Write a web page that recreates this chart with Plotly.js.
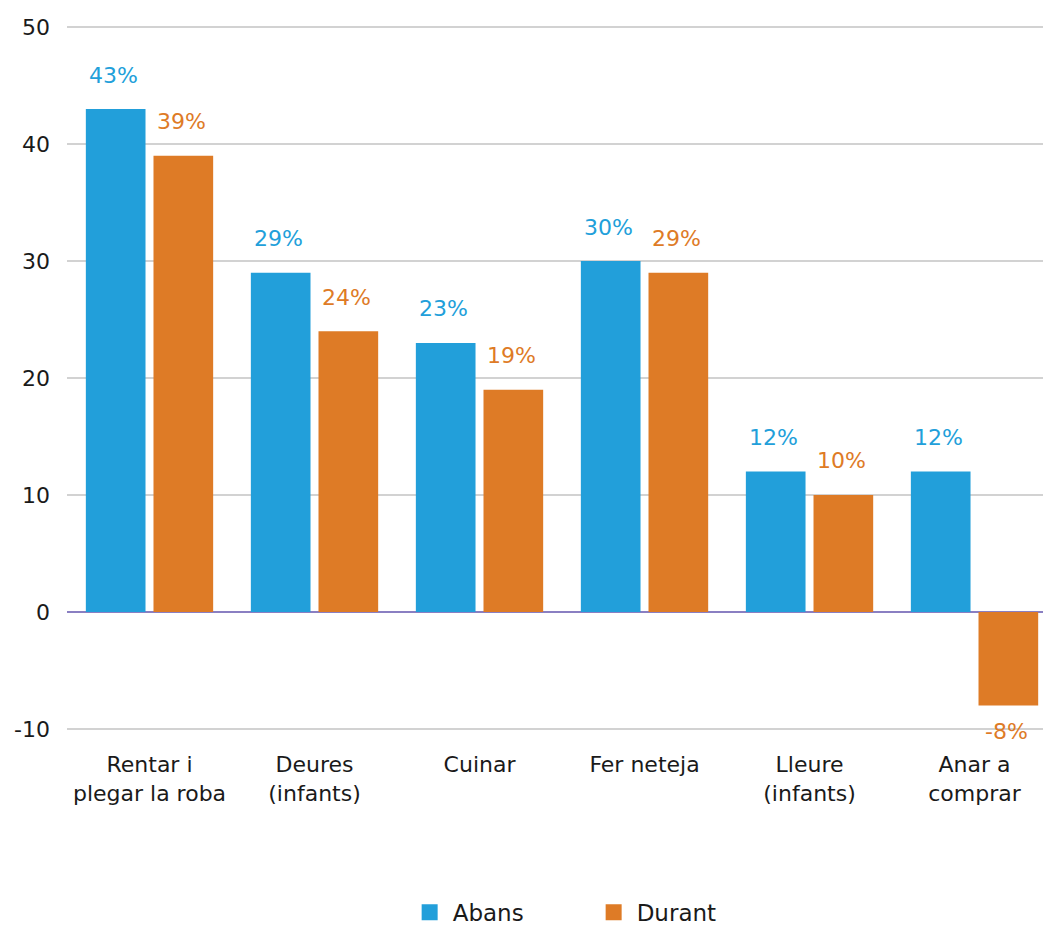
<!DOCTYPE html>
<html>
<head>
<meta charset="utf-8">
<script src="https://cdn.plot.ly/plotly-3.0.1.min.js"></script>
<style>
  html, body { margin: 0; padding: 0; background: #fff; overflow: hidden; }
  #chart { width: 1043px; height: 945px; }
</style>
</head>
<body>
<div id="chart"></div>
<script>
// Tasques domèstiques: percentatge abans i durant
const categories = ["Rentar i<br>plegar la roba", "Deures<br>(infants)", "Cuinar", "Fer neteja", "Lleure<br>(infants)", "Anar a<br>comprar"];
const abans = [43, 29, 23, 30, 12, 12];
const durant = [39, 24, 19, 29, 10, -8];
const yTickVals = [-10, 0, 10, 20, 30, 40, 50];
const yTickText = ["-10", "0", "10", "20", "30", "40", "50"];
const seriesNames = ["Abans", "Durant"];

const BLUE = "#229fda";
const ORANGE = "#de7b26";
const FONT = "DejaVu Sans, Liberation Sans, Arial, sans-serif";

const xIdx = categories.map((_, i) => i);

const bars = [
  { name: seriesNames[0], values: abans, color: BLUE, side: -1 },
  { name: seriesNames[1], values: durant, color: ORANGE, side: 1 }
];

const traces = bars.map(s => ({
  type: "bar",
  x: xIdx,
  y: s.values,
  name: s.name,
  marker: { color: s.color },
  showlegend: false,
  hoverinfo: "skip"
}));

// legend entries with larger square swatches
bars.forEach(s => {
  traces.push({
    type: "scatter",
    mode: "markers",
    x: [null],
    y: [null],
    name: s.name,
    marker: { symbol: "square", size: 22, color: s.color },
    showlegend: true,
    hoverinfo: "skip"
  });
});

// value labels above (or below) each bar
const BARGAP = 0.18;
const CAT_PX = 165;
const slotPx = CAT_PX * (1 - BARGAP) / 2;
const annotations = [];
bars.forEach(s => {
  s.values.forEach((v, i) => {
    annotations.push({
      x: i,
      y: v,
      xref: "x",
      yref: "y",
      text: v + "%",
      showarrow: false,
      xshift: s.side * slotPx / 2 - 2,
      yshift: v >= 0 ? 34 : -26,
      font: { family: FONT, size: 22, color: s.color },
      xanchor: "center",
      yanchor: "middle"
    });
  });
});

const layout = {
  width: 1043,
  height: 945,
  margin: { l: 67, r: 0, t: 25.5, b: 214.5 },
  paper_bgcolor: "#ffffff",
  plot_bgcolor: "#ffffff",
  barmode: "group",
  bargap: BARGAP,
  bargroupgap: 0.118,
  font: { family: FONT, size: 22, color: "#1a1a1a" },
  xaxis: {
    range: [-0.5, 5.415],
    tickvals: xIdx,
    ticktext: categories,
    showgrid: false,
    zeroline: false,
    showline: false,
    ticks: "",
    automargin: false,
    ticklabelstandoff: 19,
    tickfont: { family: FONT, size: 22, color: "#1a1a1a" },
    fixedrange: true
  },
  yaxis: {
    range: [-10.1, 50.1],
    tickvals: yTickVals,
    ticktext: yTickText,
    showgrid: true,
    gridcolor: "#d2d2d2",
    gridwidth: 1.5,
    zeroline: true,
    zerolinecolor: "#8a7fc2",
    zerolinewidth: 1.5,
    showline: false,
    ticks: "",
    automargin: false,
    ticklabelstandoff: 16,
    tickfont: { family: FONT, size: 22, color: "#1a1a1a" },
    fixedrange: true
  },
  showlegend: true,
  legend: {
    orientation: "h",
    x: 0.348,
    xanchor: "left",
    y: -0.259,
    yanchor: "middle",
    font: { family: FONT, size: 23, color: "#1a1a1a" },
    itemsizing: "trace",
    itemwidth: 36,
    entrywidth: 133,
    traceorder: "normal"
  },
  annotations: annotations
};

Plotly.newPlot("chart", traces, layout, { displayModeBar: false, staticPlot: true });
</script>
</body>
</html>
